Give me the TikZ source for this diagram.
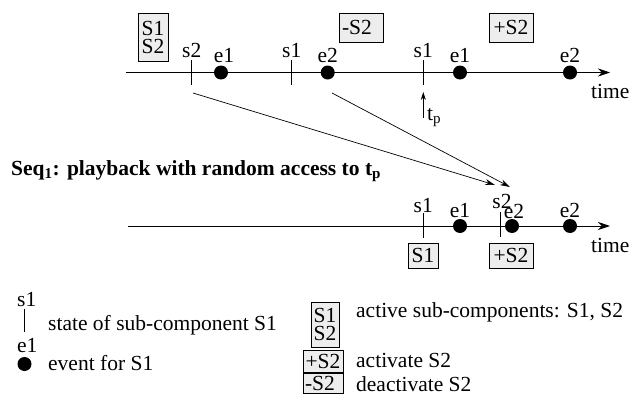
\documentclass[tikz,border=0pt]{standalone}
\usepackage{fontspec}
\setmainfont{Liberation Serif}
\newfontfamily\tnr{Liberation Serif}
\usetikzlibrary{arrows.meta}
\definecolor{boxgray}{gray}{0.93}
\begin{document}
\begin{tikzpicture}[x=1pt,y=-1pt,
  every node/.style={font=\tnr\fontsize{21.5}{18}\selectfont, inner sep=0pt},
  dot/.style={circle, fill=black, minimum size=14pt},
  lbl/.style={anchor=base},
  box/.style={draw, fill=boxgray, line width=0.6pt},
  tickline/.style={line width=0.8pt},
  axis/.style={line width=0.8pt, -{Stealth[length=12pt,width=8pt]}},
  conn/.style={line width=0.7pt, -{Stealth[length=10pt,width=6pt]}},
]
\useasboundingbox (0,0) rectangle (635,407);

% ---------- top timeline ----------
\coordinate (ta) at (126,72.5);
\coordinate (tb) at (610,72.5);
\draw[axis] (ta) -- (tb);
\node[anchor=base west] (time1) at (591,98) {time};

\coordinate (t1a) at (191.7,60); \coordinate (t1b) at (191.7,85);
\draw[tickline] (t1a) -- (t1b);
\node[lbl] (ls2a) at (191.7,57.5) {s2};
\node[dot] (de1a) at (221,72.5) {};
\node[lbl] (le1a) at (224,62) {e1};
\coordinate (t2a) at (291.7,60); \coordinate (t2b) at (291.7,85);
\draw[tickline] (t2a) -- (t2b);
\node[lbl] (ls1a) at (291.7,57.5) {s1};
\node[dot] (de2a) at (327.7,72.5) {};
\node[lbl] (le2a) at (327.7,62) {e2};
\coordinate (t3a) at (423.3,60); \coordinate (t3b) at (423.3,85);
\draw[tickline] (t3a) -- (t3b);
\node[lbl] (ls1b) at (423.3,57.5) {s1};
\node[dot] (de1b) at (460,72.5) {};
\node[lbl] (le1b) at (460,62) {e1};
\node[dot] (de2b) at (570,72.5) {};
\node[lbl] (le2b) at (570,62) {e2};

% t_p marker
\coordinate (tpa) at (423.3,118);
\coordinate (tpb) at (423.3,92);
\draw[line width=0.7pt, -{Stealth[length=8pt,width=5pt]}] (tpa) -- (tpb);
\node[anchor=base west] (tp) at (427,120) {t\textsubscript{p}};

% top boxes
\node[box, minimum width=30pt, minimum height=48pt, align=center] (bS12) at (153,37) {S1\\S2};
\node[box, minimum width=44pt, minimum height=29pt, text width=38pt, align=left] (bmS2) at (361,27.5) {-S2};
\node[box, minimum width=44pt, minimum height=29pt] (bpS2) at (511,27.5) {+S2};

% title
\node[anchor=base west, font=\tnr\bfseries\fontsize{21.5}{21}\selectfont] (title) at (11,175)
  {Seq\textsubscript{1}: playback with random access to t\textsubscript{p}};

% ---------- bottom timeline ----------
\coordinate (ba) at (128,226);
\coordinate (bb) at (610,226);
\draw[axis] (ba) -- (bb);
\node[anchor=base west] (time2) at (591,252) {time};

\coordinate (u1a) at (423.3,213); \coordinate (u1b) at (423.3,238);
\draw[tickline] (u1a) -- (u1b);
\node[lbl] (ms1) at (423.3,212) {s1};
\node[dot] (me1) at (460,226) {};
\node[lbl] (lme1) at (460,217) {e1};
\coordinate (u2a) at (500,212); \coordinate (u2b) at (500,237);
\draw[tickline] (u2a) -- (u2b);
\node[lbl] (ms2) at (502,208) {s2};
\node[dot] (me2) at (512,226) {};
\node[lbl] (lme2) at (514,218) {e2};
\node[dot] (me2b) at (570,226) {};
\node[lbl] (lme2b) at (570,217) {e2};

\node[box, minimum width=30pt, minimum height=25pt] (bS1) at (423,255.5) {S1};
\node[box, minimum width=44pt, minimum height=25pt] (bpS2b) at (511,255.5) {+S2};

% connectors
\coordinate (c1s) at (193,93);
\coordinate (c1e) at (495,185);
\coordinate (c2s) at (332,93);
\coordinate (c2e) at (510,187);
\draw[conn] (c1s) -- (c1e);
\draw[conn] (c2s) -- (c2e);

% ---------- legend ----------
\node[anchor=base west] (lgs1) at (17,306) {s1};
\coordinate (lt1) at (24,309); \coordinate (lt2) at (24,332);
\draw[tickline] (lt1) -- (lt2);
\node[anchor=base west] (lgst) at (48,330) {state of sub-component S1};
\node[anchor=base west] (lge1) at (17,352) {e1};
\node[dot] (lgdot) at (24.5,364) {};
\node[anchor=base west] (lgev) at (48,370) {event for S1};

\node[box, minimum width=28pt, minimum height=45pt, align=center] (lgb1) at (325,324.5) {S1\\S2};
\node[anchor=base west] (lgt1) at (356,317) {active sub-components: S1, S2};
\node[box, minimum width=40pt, minimum height=22pt] (lgb2) at (323,361) {+S2};
\node[anchor=base west] (lgt2) at (356,367) {activate S2};
\node[box, minimum width=40pt, minimum height=20pt, text width=36pt, align=left] (lgb3) at (323,383) {-S2};
\node[anchor=base west] (lgt3) at (356,391) {deactivate S2};
\end{tikzpicture}
\end{document}
